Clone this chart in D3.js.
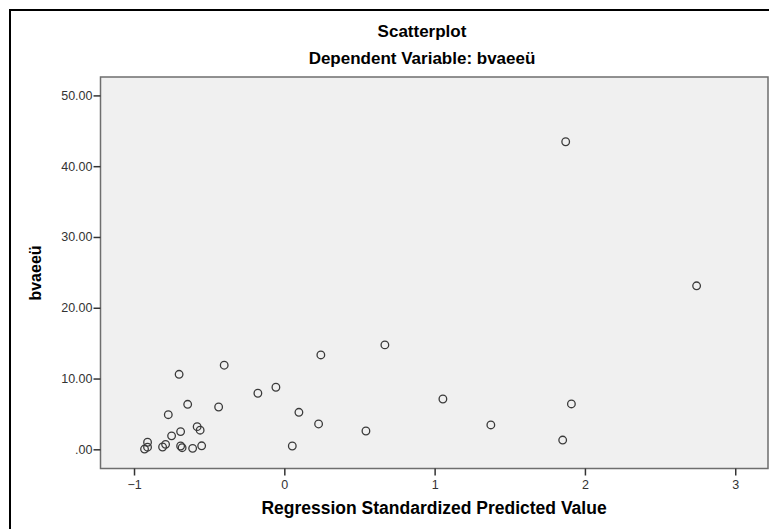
<!DOCTYPE html>
<html>
<head>
<meta charset="utf-8">
<script src="https://cdn.jsdelivr.net/npm/d3@7"></script>
<style>
	body { margin: 0; background: #fff; }
	svg { display: block; font-family: "Liberation Sans", Arial, sans-serif; }
</style>
</head>
<body>
<svg id="chart" width="769" height="529"></svg>
<script>
var predicted = [1.872, 2.743, 0.669, 0.243, -0.70, -0.40, -0.056, -0.176, 1.055, -0.437,
	-0.643, 0.097, -0.772, 0.228, 1.374, 1.910, 0.543, 1.852, 0.053,
	-0.91, -0.93, -0.91, -0.81, -0.79, -0.75, -0.69, -0.69, -0.68, -0.61, -0.55, -0.58, -0.56];
var observed = [43.45, 23.1, 14.75, 13.33, 10.6, 11.88, 8.77, 7.92, 7.11, 5.98,
	6.36, 5.23, 4.89, 3.58, 3.44, 6.41, 2.59, 1.31, 0.47,
	1.0, 0.04, 0.3, 0.33, 0.7, 1.9, 2.5, 0.47, 0.23, 0.14, 0.5, 3.2, 2.7];
var xTicks = [-1, 0, 1, 2, 3];
var yTicks = [0, 10, 20, 30, 40, 50];

var svg = d3.select("#chart");
var plot = {left: 100.5, top: 77, right: 768, bottom: 468.5};

var x = d3.scaleLinear().domain([-1.223, 3.218]).range([plot.left, plot.right]);
var y = d3.scaleLinear().domain([-2.71, 52.6]).range([plot.bottom, plot.top]);

// outer frame
svg.append("rect")
	.attr("x", 10).attr("y", 10)
	.attr("width", 800).attr("height", 600)
	.attr("fill", "#fff")
	.attr("stroke", "#000")
	.attr("stroke-width", 2);

// plot background
svg.append("rect")
	.attr("x", plot.left).attr("y", plot.top)
	.attr("width", plot.right - plot.left)
	.attr("height", plot.bottom - plot.top)
	.attr("fill", "#f0f0f0")
	.attr("stroke", "#6e6e6e")
	.attr("stroke-width", 1.5);

// axes
var xAxis = svg.append("g")
	.attr("transform", "translate(0," + plot.bottom + ")")
	.call(d3.axisBottom(x).tickValues(xTicks).tickSize(7).tickSizeOuter(0).tickFormat(d3.format("d")));
var yAxis = svg.append("g")
	.attr("transform", "translate(" + plot.left + ",0)")
	.call(d3.axisLeft(y).tickValues(yTicks).tickSize(7).tickSizeOuter(0)
		.tickFormat(function(d) { return d === 0 ? ".00" : d3.format(".2f")(d); }));

[xAxis, yAxis].forEach(function(a) {
	a.select(".domain").remove();
	a.selectAll(".tick line").attr("stroke", "#333").attr("stroke-width", 1.5);
	a.selectAll(".tick text")
		.attr("fill", "#333")
		.style("font-size", "12.5px")
		.style("font-family", "'Liberation Sans', Arial, sans-serif");
});
xAxis.selectAll(".tick text").attr("dy", "0.85em");
yAxis.selectAll(".tick text").attr("x", -8);

// points
svg.append("g").selectAll("circle")
	.data(predicted.map(function(p, i) { return {x: p, y: observed[i]}; }))
	.enter().append("circle")
	.attr("cx", function(d) { return x(d.x); })
	.attr("cy", function(d) { return y(d.y); })
	.attr("r", 3.8)
	.attr("fill", "none")
	.attr("stroke", "#3a3a3a")
	.attr("stroke-width", 1.3);

// titles
svg.append("text")
	.attr("x", 422).attr("y", 37)
	.attr("text-anchor", "middle")
	.style("font-size", "17px").style("font-weight", "bold")
	.text("Scatterplot");
svg.append("text")
	.attr("x", 422).attr("y", 64)
	.attr("text-anchor", "middle")
	.style("font-size", "17px").style("font-weight", "bold")
	.text("Dependent Variable: bvaeeü");
svg.append("text")
	.attr("x", 434).attr("y", 514)
	.attr("text-anchor", "middle")
	.style("font-size", "17.5px").style("font-weight", "bold")
	.text("Regression Standardized Predicted Value");
svg.append("text")
	.attr("transform", "translate(41,273) rotate(-90)")
	.attr("text-anchor", "middle")
	.style("font-size", "16px").style("font-weight", "bold")
	.text("bvaeeü");
</script>
</body>
</html>
